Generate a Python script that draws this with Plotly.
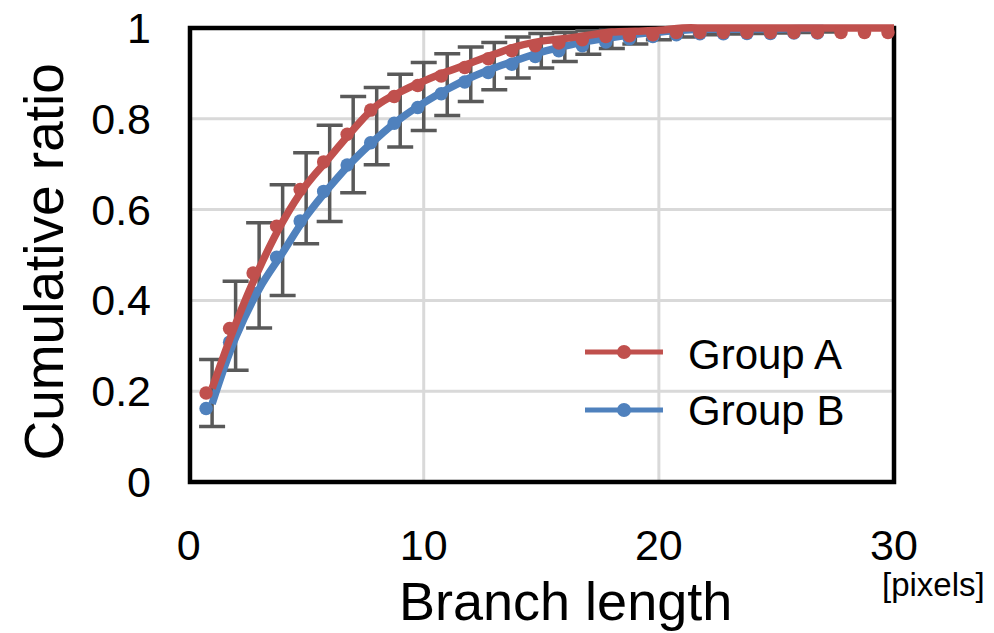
import plotly.graph_objects as go

# ---- data -------------------------------------------------------------
branch_length = [1, 2, 3, 4, 5, 6, 7, 8, 9, 10,
                 11, 12, 13, 14, 15, 16, 17, 18, 19, 20,
                 21, 22, 23, 24, 25, 26, 27, 28, 29, 30]

group_a = [0.206, 0.348, 0.470, 0.573, 0.654, 0.715, 0.776, 0.829, 0.859, 0.883,
           0.904, 0.923, 0.942, 0.960, 0.971, 0.977, 0.984, 0.991, 0.993, 0.995,
           1.0, 1.0, 1.0, 1.0, 1.0, 1.0, 1.0, 1.0, 1.0, 1.0]

group_b = [0.172, 0.318, 0.425, 0.505, 0.585, 0.650, 0.708, 0.757, 0.800, 0.835,
           0.865, 0.891, 0.912, 0.930, 0.947, 0.960, 0.971, 0.979, 0.986, 0.991,
           0.995, 0.997, 0.997, 0.998, 0.998, 0.999, 0.999]

pooled_mean = [0.196, 0.344, 0.455, 0.533, 0.625, 0.680, 0.743, 0.784, 0.818, 0.849,
               0.875, 0.898, 0.916, 0.935, 0.950, 0.958, 0.968, 0.975, 0.980, 0.984,
               0.988, 0.990, 0.992, 0.993, 0.994, 0.995, 0.996]

pooled_sd = [0.074, 0.098, 0.116, 0.122, 0.100, 0.106, 0.106, 0.085, 0.080, 0.075,
             0.068, 0.060, 0.052, 0.045, 0.038, 0.032, 0.026, 0.020, 0.015, 0.010,
             0.008, 0.005, 0.005, 0.005, 0.005, 0.005, 0.005]

x_tick_vals = [0, 10, 20, 30]
y_tick_vals = [0, 0.2, 0.4, 0.6, 0.8, 1]
y_tick_text = ["0", "0.2", "0.4", "0.6", "0.8", "1"]

# ---- style ------------------------------------------------------------
RED = "#C0504D"
BLUE = "#4F81BD"
ERR_GRAY = "#595959"
GRID = "#D9D9D9"
FONT = "Liberation Sans, Arial, sans-serif"

X_RANGE = [-0.365, 30.425]
Y_RANGE = [-0.022, 1.022]
FRAME_X = [0.06, 30.0]
FRAME_Y = [0.0, 1.0]
# the marker layer is drawn slightly up and to the left of the curve layer
MX_SHIFT = 0.255
MY_SHIFT = 0.0099
XM_RANGE = [X_RANGE[0] + MX_SHIFT, X_RANGE[1] + MX_SHIFT]
YM_RANGE = [Y_RANGE[0] + MY_SHIFT, Y_RANGE[1] + MY_SHIFT]

LINE_W = 7.5
MARKER_D = 13.5

nb = len(group_b)
npool = len(pooled_mean)

fig = go.Figure()

# pooled mean +/- SD (error bars only)
fig.add_trace(go.Scatter(
    x=branch_length[:npool], y=pooled_mean, mode="markers",
    marker=dict(size=1, opacity=0),
    error_y=dict(type="data", array=pooled_sd, color=ERR_GRAY,
                 thickness=3.5, width=13),
    xaxis="x", yaxis="y", showlegend=False, hoverinfo="skip",
))

# Group B curve and markers
fig.add_trace(go.Scatter(
    x=branch_length[:nb], y=group_b, mode="lines", name="Group B",
    line=dict(color=BLUE, width=LINE_W, shape="spline", smoothing=1.1),
    xaxis="x", yaxis="y", showlegend=False,
))
fig.add_trace(go.Scatter(
    x=branch_length[:nb], y=group_b, mode="markers", name="Group B",
    marker=dict(color=BLUE, size=MARKER_D, line=dict(width=0)),
    xaxis="x2", yaxis="y2", showlegend=False, cliponaxis=False,
))

# Group A curve and markers
fig.add_trace(go.Scatter(
    x=branch_length, y=group_a, mode="lines", name="Group A",
    line=dict(color=RED, width=LINE_W, shape="spline", smoothing=1.1),
    xaxis="x3", yaxis="y3", showlegend=False,
))
fig.add_trace(go.Scatter(
    x=branch_length, y=group_a, mode="markers", name="Group A",
    marker=dict(color=RED, size=MARKER_D, line=dict(width=0)),
    xaxis="x4", yaxis="y4", showlegend=False, cliponaxis=False,
))

hidden = dict(visible=False, showgrid=False, zeroline=False, automargin=False)

fig.update_layout(
    width=994, height=633,
    margin=dict(l=180, r=90, t=18, b=141, autoexpand=False),
    paper_bgcolor="white", plot_bgcolor="white",
    font=dict(family=FONT, color="black"),
    showlegend=False,
    xaxis=dict(range=X_RANGE, tickvals=x_tick_vals, showgrid=False,
               zeroline=False, showline=False, automargin=False,
               ticks="", tickfont=dict(size=43, family=FONT, color="black"),
               ticklabelstandoff=24),
    yaxis=dict(range=Y_RANGE, tickvals=y_tick_vals, ticktext=y_tick_text,
               showgrid=False, zeroline=False, showline=False,
               automargin=False, ticks="",
               tickfont=dict(size=43, family=FONT, color="black"),
               ticklabelstandoff=28),
    xaxis2=dict(range=XM_RANGE, overlaying="x", anchor="y2", **hidden),
    yaxis2=dict(range=YM_RANGE, overlaying="y", anchor="x2", **hidden),
    xaxis3=dict(range=X_RANGE, overlaying="x", anchor="y3", **hidden),
    yaxis3=dict(range=Y_RANGE, overlaying="y", anchor="x3", **hidden),
    xaxis4=dict(range=XM_RANGE, overlaying="x", anchor="y4", **hidden),
    yaxis4=dict(range=YM_RANGE, overlaying="y", anchor="x4", **hidden),
)

shapes = []
# gridlines, kept inside the frame
for yv in y_tick_vals:
    if FRAME_Y[0] < yv < FRAME_Y[1]:
        shapes.append(dict(type="line", xref="x", yref="y",
                           x0=FRAME_X[0], x1=FRAME_X[1], y0=yv, y1=yv,
                           line=dict(color=GRID, width=3), layer="below"))
for xv in x_tick_vals:
    if FRAME_X[0] < xv < FRAME_X[1]:
        shapes.append(dict(type="line", xref="x", yref="y",
                           x0=xv, x1=xv, y0=FRAME_Y[0], y1=FRAME_Y[1],
                           line=dict(color=GRID, width=3), layer="below"))
# plot frame
shapes.append(dict(type="rect", xref="x", yref="y",
                   x0=FRAME_X[0], x1=FRAME_X[1], y0=FRAME_Y[0], y1=FRAME_Y[1],
                   line=dict(color="black", width=4.5), layer="between"))

annotations = []

# legend
legend_items = [("Group A", RED, 0.2954, 0.2911), ("Group B", BLUE, 0.1730, 0.1709)]
for label, color, y_line, y_text in legend_items:
    shapes.append(dict(type="line", xref="paper", yref="paper",
                       x0=0.5594, x1=0.6671, y0=y_line, y1=y_line,
                       line=dict(color=color, width=5)))
    shapes.append(dict(type="circle", xref="paper", yref="paper",
                       xsizemode="pixel", ysizemode="pixel",
                       xanchor=0.6133, yanchor=y_line,
                       x0=-7, x1=7, y0=-7, y1=7,
                       fillcolor=color, line=dict(width=0)))
    annotations.append(dict(text=label, xref="paper", yref="paper",
                            x=0.6989, y=y_text, xanchor="left", yanchor="middle",
                            showarrow=False, font=dict(size=42, family=FONT)))

# axis titles
annotations.append(dict(text="Branch length", xref="paper", yref="paper",
                        x=0.5318, y=-0.230, xanchor="center", yanchor="middle",
                        showarrow=False, font=dict(size=54, family=FONT)))
annotations.append(dict(text="[pixels]", xref="paper", yref="paper",
                        x=1.0414, y=-0.196, xanchor="center", yanchor="middle",
                        showarrow=False, font=dict(size=33, family=FONT)))
annotations.append(dict(text="Cumulative ratio", xref="paper", yref="paper",
                        x=-0.1878, y=0.4842, xanchor="center", yanchor="middle",
                        textangle=-90, showarrow=False,
                        font=dict(size=55, family=FONT)))

fig.update_layout(shapes=shapes, annotations=annotations)

fig.write_html("out.html")
